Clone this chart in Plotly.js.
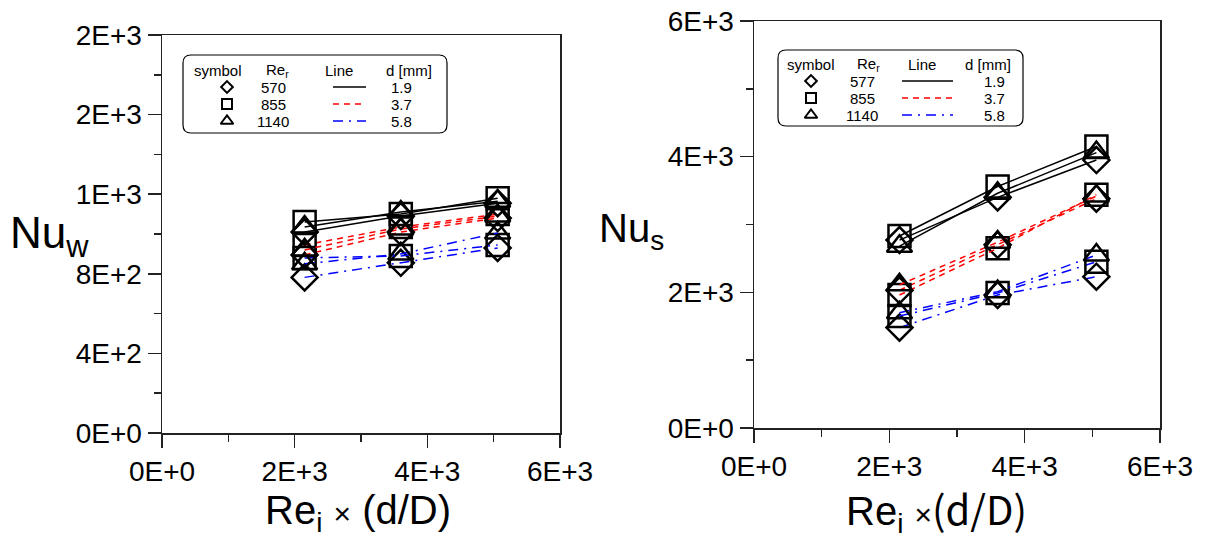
<!DOCTYPE html>
<html>
<head>
<meta charset="utf-8">
<script src="https://cdn.plot.ly/plotly-3.0.1.min.js"></script>
<style>html,body{margin:0;padding:0;background:#fff;}#chart{width:1207px;height:542px;}</style>
</head>
<body>
<div id="chart"></div>
<script>
// ---------------- data ----------------
const xRe = [2150, 3600, 5060];            // Re_i x (d/D)

// Left chart: Nu_w
const nuW_d19_570  = [1010, 1090, 1155];
const nuW_d19_855  = [1060, 1100, 1180];
const nuW_d19_1140 = [1035, 1110, 1165];
const nuW_d37_570  = [895, 1010, 1080];
const nuW_d37_855  = [945, 1035, 1100];
const nuW_d37_1140 = [920, 1025, 1090];
const nuW_d58_570  = [782, 855, 930];
const nuW_d58_855  = [880, 890, 945];
const nuW_d58_1140 = [850, 900, 1005];

// Right chart: Nu_s
const nuS_d19_577  = [2770, 3400, 3950];
const nuS_d19_855  = [2830, 3560, 4150];
const nuS_d19_1140 = [2680, 3460, 4060];
const nuS_d37_577  = [2030, 2700, 3380];
const nuS_d37_855  = [1960, 2650, 3440];
const nuS_d37_1140 = [2110, 2740, 3420];
const nuS_d58_577  = [1480, 1960, 2230];
const nuS_d58_855  = [1650, 1990, 2450];
const nuS_d58_1140 = [1700, 2010, 2550];

// tick labels
const xTickVals = [0, 2000, 4000, 6000];
const xTickText = ['0E+0', '2E+3', '4E+3', '6E+3'];
const xMinorVals = [1000, 3000, 5000];
const yLTickVals = [0, 400, 800, 1200, 1600, 2000];
const yLTickText = ['0E+0', '4E+2', '8E+2', '1E+3', '2E+3', '2E+3'];
const yLMinorVals = [200, 600, 1000, 1400, 1800];
const yRTickVals = [0, 2000, 4000, 6000];
const yRTickText = ['0E+0', '2E+3', '4E+3', '6E+3'];
const yRMinorVals = [1000, 3000, 5000];

// legend content
const reLeft  = ['570', '855', '1140'];
const reRight = ['577', '855', '1140'];
const dVals   = ['1.9', '3.7', '5.8'];

// ---------------- styles ----------------
const FONT = 'Liberation Sans, Arial, sans-serif';
const symbols = ['diamond-open', 'square-open', 'triangle-up-open'];
const symSizes = [20, 22, 22];
const lineStyles = [
  {color: '#000000', dash: 'solid'},
  {color: '#ff0000', dash: '6px,5px'},
  {color: '#0000ff', dash: '10px,6px,2px,6px'}
];

function series(x, y, si, li, xa, ya) {
  return {
    type: 'scatter', mode: 'lines+markers', x: x, y: y, xaxis: xa, yaxis: ya,
    line: {color: lineStyles[li].color, dash: lineStyles[li].dash, width: 1.5},
    marker: {symbol: symbols[si], size: symSizes[si], color: '#000', line: {color: '#000', width: 2.5}},
    showlegend: false, hoverinfo: 'skip'
  };
}

const leftSets = [
  [nuW_d19_570, nuW_d19_855, nuW_d19_1140],
  [nuW_d37_570, nuW_d37_855, nuW_d37_1140],
  [nuW_d58_570, nuW_d58_855, nuW_d58_1140]
];
const rightSets = [
  [nuS_d19_577, nuS_d19_855, nuS_d19_1140],
  [nuS_d37_577, nuS_d37_855, nuS_d37_1140],
  [nuS_d58_577, nuS_d58_855, nuS_d58_1140]
];

const traces = [];
for (let li = 2; li >= 0; li--) {
  for (let si = 0; si < 3; si++) {
    traces.push(series(xRe, leftSets[li][si], si, li, 'x', 'y'));
    traces.push(series(xRe, rightSets[li][si], si, li, 'x2', 'y2'));
  }
}

// ---------------- legend boxes (pixel overlay axis x3/y3) ----------------
const shapes = [];
const annotations = [];
function roundRect(x0, y0, x1, y1, r) {
  return `M ${x0 + r},${y0} L ${x1 - r},${y0} Q ${x1},${y0} ${x1},${y0 + r} L ${x1},${y1 - r} Q ${x1},${y1} ${x1 - r},${y1} L ${x0 + r},${y1} Q ${x0},${y1} ${x0},${y1 - r} L ${x0},${y0 + r} Q ${x0},${y0} ${x0 + r},${y0} Z`;
}
function legendBlock(cfg) {
  shapes.push({type: 'path', xref: 'x3', yref: 'y3', path: roundRect(cfg.box[0], cfg.box[1], cfg.box[2], cfg.box[3], 8),
    line: {color: '#000', width: 1.2}, fillcolor: 'rgba(255,255,255,0)'});
  const hdr = [['symbol', cfg.cols[0]], ['Re<sub>r</sub>', cfg.cols[1]], ['Line', cfg.cols[2]], ['d [mm]', cfg.cols[3]]];
  hdr.forEach(h => annotations.push({xref: 'x3', yref: 'y3', x: h[1], y: cfg.hy, text: h[0], showarrow: false,
    xanchor: 'center', yanchor: 'middle', font: {family: FONT, size: 15, color: '#000'}}));
  for (let i = 0; i < 3; i++) {
    const ry = cfg.rows[i];
    annotations.push({xref: 'x3', yref: 'y3', x: cfg.numX, y: ry, text: cfg.re[i], showarrow: false,
      xanchor: 'center', yanchor: 'middle', font: {family: FONT, size: 15, color: '#000'}});
    annotations.push({xref: 'x3', yref: 'y3', x: cfg.dX, y: ry, text: dVals[i], showarrow: false,
      xanchor: 'center', yanchor: 'middle', font: {family: FONT, size: 15, color: '#000'}});
    traces.push({type: 'scatter', mode: 'markers', x: [cfg.symX], y: [ry], xaxis: 'x3', yaxis: 'y3',
      marker: {symbol: symbols[i], size: [9, 10, 11][i], color: '#000', line: {color: '#000', width: 2}},
      showlegend: false, hoverinfo: 'skip'});
    traces.push({type: 'scatter', mode: 'lines', x: [cfg.lineX[0], cfg.lineX[1]], y: [ry, ry], xaxis: 'x3', yaxis: 'y3',
      line: {color: lineStyles[i].color, dash: lineStyles[i].dash, width: 1.3},
      showlegend: false, hoverinfo: 'skip'});
  }
}
legendBlock({box: [183, 55, 447, 133], cols: [218, 277, 339, 409], hy: 70, rows: [87, 104, 121],
  symX: 227, numX: 273, lineX: [333, 366], dX: 401, re: reLeft});
legendBlock({box: [778, 50, 1023, 126], cols: [811, 868, 922, 988], hy: 64, rows: [81, 98, 115],
  symX: 811, numX: 862, lineX: [902, 953], dX: 994, re: reRight});

// axis titles
const NB = '\u00a0';
annotations.push({xref: 'x3', yref: 'y3', x: 8, y: 236, text: 'Nu<sub>w</sub>', showarrow: false,
  xanchor: 'left', yanchor: 'middle', font: {family: FONT, size: 44, color: '#000'}});
annotations.push({xref: 'x3', yref: 'y3', x: 597, y: 231, text: 'Nu<sub>s</sub>', showarrow: false,
  xanchor: 'left', yanchor: 'middle', font: {family: FONT, size: 40, color: '#000'}});
annotations.push({xref: 'x3', yref: 'y3', x: 358, y: 513,
  text: 'Re<sub>i</sub>' + NB + '<span style="font-size:30px">×</span>' + NB + '(d/D)', showarrow: false,
  xanchor: 'center', yanchor: 'middle', font: {family: FONT, size: 40, color: '#000'}});
annotations.push({xref: 'x3', yref: 'y3', x: 936, y: 509,
  text: 'Re<sub>i</sub>' + NB + '<span style="font-size:30px">×</span><span style="font-family:Noto Sans CJK JP">(d/D)</span>', showarrow: false,
  xanchor: 'center', yanchor: 'middle', font: {family: FONT, size: 40, color: '#000'}});

// ---------------- axes ----------------
function axisBase(extra) {
  return Object.assign({
    showline: true, linecolor: '#222', linewidth: 1.5, mirror: true,
    ticks: 'outside', ticklen: 13, tickwidth: 1.5, tickcolor: '#222',
    tickmode: 'array', showgrid: false, zeroline: false,
    tickfont: {family: FONT, size: 28, color: '#000'}
  }, extra);
}

const W = 1207, H = 542;
const layout = {
  width: W, height: H,
  margin: {l: 0, r: 0, t: 0, b: 0},
  paper_bgcolor: '#ffffff', plot_bgcolor: 'rgba(0,0,0,0)',
  showlegend: false,
  xaxis: axisBase({domain: [162 / W, 560 / W], range: [0, 6000], anchor: 'y',
    tickvals: xTickVals, ticktext: xTickText,
    minor: {tickmode: 'array', tickvals: xMinorVals, ticks: 'outside', ticklen: 7, tickwidth: 1.5, tickcolor: '#222', showgrid: false}}),
  yaxis: axisBase({domain: [1 - 433 / H, 1 - 35 / H], range: [0, 2000], anchor: 'x',
    tickvals: yLTickVals, ticktext: yLTickText,
    minor: {tickmode: 'array', tickvals: yLMinorVals, ticks: 'outside', ticklen: 7, tickwidth: 1.5, tickcolor: '#222', showgrid: false}}),
  xaxis2: axisBase({domain: [754 / W, 1160 / W], range: [0, 6000], anchor: 'y2',
    tickvals: xTickVals, ticktext: xTickText,
    minor: {tickmode: 'array', tickvals: xMinorVals, ticks: 'outside', ticklen: 7, tickwidth: 1.5, tickcolor: '#222', showgrid: false}}),
  yaxis2: axisBase({domain: [1 - 428 / H, 1 - 21 / H], range: [0, 6000], anchor: 'x2',
    tickvals: yRTickVals, ticktext: yRTickText,
    minor: {tickmode: 'array', tickvals: yRMinorVals, ticks: 'outside', ticklen: 7, tickwidth: 1.5, tickcolor: '#222', showgrid: false}}),
  xaxis3: {domain: [0, 1], range: [0, W], anchor: 'y3', visible: false, fixedrange: true},
  yaxis3: {domain: [0, 1], range: [H, 0], anchor: 'x3', visible: false, fixedrange: true},
  shapes: shapes,
  annotations: annotations
};

Plotly.newPlot('chart', traces, layout, {staticPlot: true, displayModeBar: false});
</script>
</body>
</html>
